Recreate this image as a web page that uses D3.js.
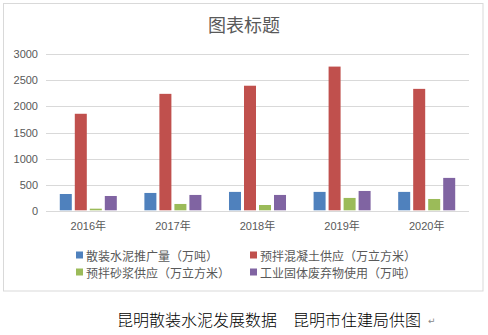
<!DOCTYPE html>
<html><head><meta charset="utf-8">
<script src="https://cdn.jsdelivr.net/npm/d3@7"></script>
<style>
html,body{margin:0;padding:0;background:#fff;}
svg{display:block;}
</style></head>
<body>
<script>
const categories = ["2016年","2017年","2018年","2019年","2020年"];
const seriesNames = ["散装水泥推广量（万吨）","预拌混凝土供应（万立方米）","预拌砂浆供应（万立方米）","工业固体废弃物使用（万吨）"];
const bulkCement = [330, 350, 370, 370, 370];
const readyMixConcrete = [1860, 2240, 2395, 2760, 2335];
const readyMixMortar = [50, 140, 120, 255, 235];
const industrialWaste = [292, 312, 312, 388, 637];
const yTicks = [0, 500, 1000, 1500, 2000, 2500, 3000];
const colors = ["#4F81BD","#C0504D","#9BBB59","#8064A2"];
const chartTitle = "图表标题";
const caption = "昆明散装水泥发展数据　昆明市住建局供图";

const seriesValues = [bulkCement, readyMixConcrete, readyMixMortar, industrialWaste];
const W = 488, H = 335;
const svg = d3.select("body").append("svg").attr("width", W).attr("height", H);
const cjk = "'Noto Sans CJK SC','Noto Sans',sans-serif";
const num = "'Liberation Sans','Noto Sans CJK SC',sans-serif";

svg.append("rect").attr("x",3.5).attr("y",3.5).attr("width",479.5).attr("height",287.5)
  .attr("fill","#fff").attr("stroke","#D9D9D9").attr("stroke-width",1);

svg.append("text").attr("x",244).attr("y",24).attr("text-anchor","middle")
  .attr("dominant-baseline","central").attr("font-family",cjk).attr("font-size",18)
  .attr("fill","#595959").text(chartTitle);

const x0 = d3.scaleBand().domain(categories).range([46,469]).paddingInner(0.326).paddingOuter(0.163);
const x1 = d3.scaleBand().domain(d3.range(4)).range([0, x0.bandwidth()]).paddingInner(0.2).paddingOuter(0);
const y = d3.scaleLinear().domain([0,3000]).range([211.3,54]);

const grid = svg.append("g");
grid.selectAll("line").data(yTicks).join("line")
  .attr("x1",46).attr("x2",469)
  .attr("y1",d=>Math.round(y(d))+0.5).attr("y2",d=>Math.round(y(d))+0.5)
  .attr("stroke","#D9D9D9").attr("stroke-width",1);

svg.append("g").selectAll("text").data(yTicks).join("text")
  .attr("x",38).attr("y",d=>y(d)).attr("text-anchor","end").attr("dominant-baseline","central")
  .attr("font-family",num).attr("font-size",11).attr("fill","#595959").text(d=>d);

const groups = svg.append("g").selectAll("g").data(categories).join("g")
  .attr("transform",c=>`translate(${x0(c)},0)`);
groups.selectAll("rect").data((c,i)=>seriesValues.map((s,k)=>({k, v:s[i]}))).join("rect")
  .attr("x",d=>x1(d.k)).attr("width",x1.bandwidth())
  .attr("y",d=>y(d.v)).attr("height",d=>y(0)-y(d.v) - 1)
  .attr("fill",d=>colors[d.k]);

svg.append("line").attr("x1",46).attr("x2",469).attr("y1",211.5).attr("y2",211.5)
  .attr("stroke","#D9D9D9").attr("stroke-width",1);

svg.append("g").selectAll("text").data(categories).join("text")
  .attr("x",c=>x0(c)+x0.bandwidth()/2).attr("y",226).attr("text-anchor","middle")
  .attr("dominant-baseline","central").attr("font-family",num).attr("font-size",11)
  .attr("fill","#595959").text(c=>c);

const legPos = [[76,255],[250,255],[76,272],[250,272]];
const leg = svg.append("g").selectAll("g").data(seriesNames).join("g")
  .attr("transform",(d,i)=>`translate(${legPos[i][0]},${legPos[i][1]})`);
leg.append("rect").attr("x",0).attr("y",-3.5).attr("width",7).attr("height",7).attr("fill",(d,i)=>colors[i]);
leg.append("text").attr("x",10).attr("y",0).attr("dominant-baseline","central")
  .attr("font-family",cjk).attr("font-size",12).attr("fill","#595959").text(d=>d);

svg.append("text").attr("x",117).attr("y",319).attr("dominant-baseline","central")
  .attr("font-family",cjk).attr("font-size",16).attr("font-weight",300).attr("fill","#000").text(caption);
svg.append("text").attr("x",428).attr("y",321).attr("dominant-baseline","central")
  .attr("font-family","'DejaVu Sans',sans-serif").attr("font-size",9).attr("fill","#888").text("↵");
</script>
</body></html>
